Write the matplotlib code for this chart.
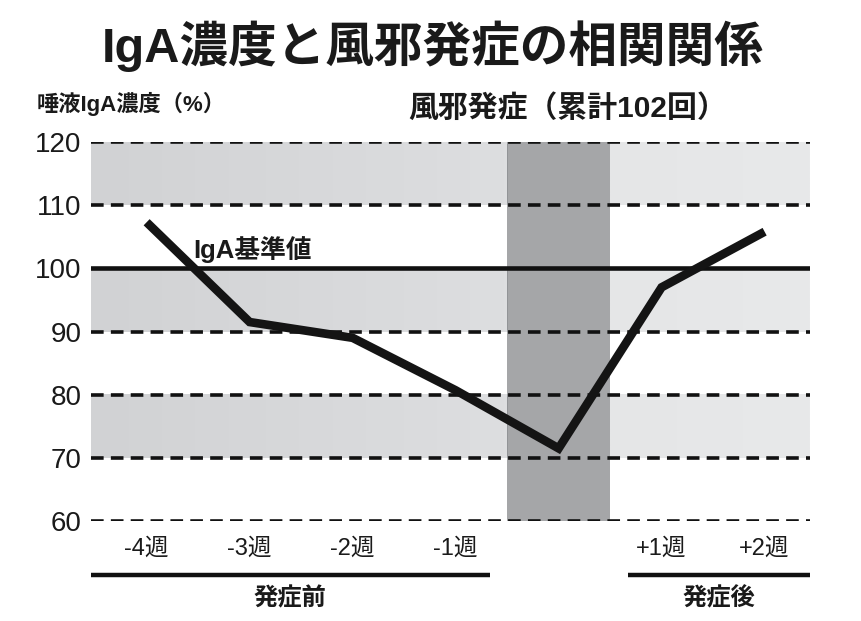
import numpy as np
import matplotlib
matplotlib.use('Agg')
import matplotlib.pyplot as plt
import matplotlib.transforms as mtransforms
from matplotlib import font_manager

plt.rcParams['font.family'] = ['Liberation Sans', 'Noto Sans CJK JP', 'DejaVu Sans']

# data
weeks = ['-4週', '-3週', '-2週', '-1週', '', '+1週', '+2週']
iga = [107.3, 91.5, 89.0, 80.7, 71.5, 97.0, 105.8]
yticks = [60, 70, 80, 90, 100, 110, 120]
gray_rows = [(110, 120), (90, 100), (70, 80)]
baseline = 100
onset_idx = 4

names = {f.name for f in font_manager.fontManager.ttflist}
narrow = 'Liberation Sans Narrow' if 'Liberation Sans Narrow' in names else 'Liberation Sans'

x = np.arange(len(weeks))
xmin, xmax = -0.54, 6.44

fig = plt.figure(figsize=(8.61, 6.21), dpi=100)
ax = fig.add_axes([0.1057, 0.161, 0.835, 0.6103])
ax.set_xlim(xmin, xmax)
ax.set_ylim(60, 120)


def hgrad(c0, c1, n=100):
    c0 = np.array(c0) / 255.0
    c1 = np.array(c1) / 255.0
    t = np.linspace(0, 1, n)[:, None]
    return (c0 + (c1 - c0) * t)[None, :, :]


# gray rows, slightly darker on the left
for lo, hi in gray_rows:
    ax.imshow(hgrad((209, 210, 212), (221, 222, 224)), aspect='auto',
              extent=(xmin, onset_idx - 0.5, lo, hi), zorder=0)
    ax.imshow(hgrad((229, 230, 231), (232, 233, 234)), aspect='auto',
              extent=(onset_idx + 0.5, xmax, lo, hi), zorder=0)

# onset band
ax.axvspan(onset_idx - 0.5, onset_idx + 0.5, color='#383a3e', alpha=0.45,
           lw=0, zorder=1)

# grid lines
for v in yticks:
    if v == baseline:
        ax.axhline(v, color='#111111', lw=3.3, zorder=2)
    else:
        ax.axhline(v, color='#111111', lw=2.6, ls=(0, (3.5, 2.0)), zorder=2)

ax.plot(x, iga, color='#141414', lw=6.2, solid_joinstyle='miter',
        solid_capstyle='butt', zorder=3)

ax.set_xticks(x)
ax.set_xticklabels(weeks, fontsize=17, family=[narrow, 'Noto Sans CJK JP'],
                   color='#1a1a1a')
ax.set_yticks(yticks)
ax.set_yticklabels([str(v) for v in yticks], fontsize=20, color='#1a1a1a')
ax.tick_params(axis='x', length=0, pad=12)
ax.tick_params(axis='y', length=0, pad=7)
for s in ax.spines.values():
    s.set_visible(False)

# phase brackets under the axis
trans = mtransforms.blended_transform_factory(ax.transData, ax.transAxes)
ax.plot([xmin, 3.33], [-0.1425, -0.1425], color='#111111', lw=3.2,
        transform=trans, clip_on=False, solid_capstyle='butt')
ax.plot([4.67, xmax], [-0.1425, -0.1425], color='#111111', lw=3.2,
        transform=trans, clip_on=False, solid_capstyle='butt')
ax.text((xmin + 3.33) / 2, -0.205, '発症前', transform=trans, ha='center',
        va='center', fontsize=17.5, fontweight='bold', color='#1a1a1a')
ax.text((4.67 + xmax) / 2, -0.205, '発症後', transform=trans, ha='center',
        va='center', fontsize=17.5, fontweight='bold', color='#1a1a1a')

ax.text(0.45, 103.0, 'IgA基準値', fontsize=18.5, fontweight='bold',
        ha='left', va='center', color='#1a1a1a', zorder=4)

fig.text(0.503, 0.925, 'IgA濃度と風邪発症の相関関係', ha='center', va='center',
         fontsize=35, fontweight='bold', color='#1a1a1a')
fig.text(0.043, 0.832, '唾液IgA濃度（%）', ha='left', va='center',
         fontsize=16, fontweight='bold', color='#1a1a1a')
fig.text(0.659, 0.826, '風邪発症（累計102回）', ha='center', va='center',
         fontsize=21.5, fontweight='bold', color='#1a1a1a')

fig.savefig('out.png', dpi=100)
